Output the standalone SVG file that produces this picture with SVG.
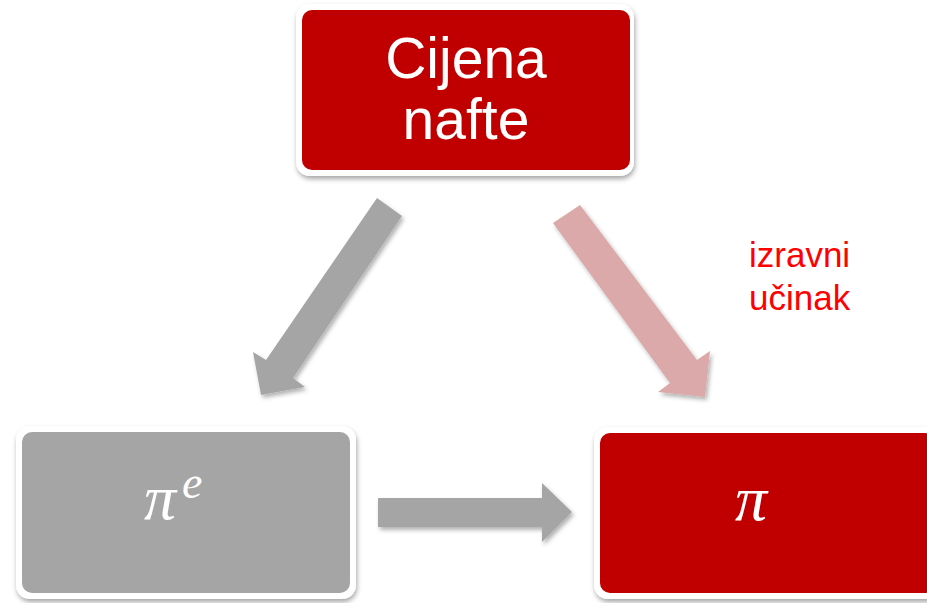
<svg xmlns="http://www.w3.org/2000/svg" width="927" height="603" viewBox="0 0 927 603">
<defs>
<filter id="sh" x="-10%" y="-10%" width="130%" height="130%">
<feDropShadow dx="1" dy="3" stdDeviation="2.5" flood-color="#000" flood-opacity="0.35"/>
</filter>
<filter id="ash" x="-20%" y="-20%" width="140%" height="140%">
<feDropShadow dx="2" dy="3" stdDeviation="2" flood-color="#000" flood-opacity="0.3"/>
</filter>
</defs>
<style>
.frame{fill:#ffffff;filter:url(#sh)}
.red{fill:#C00000}
.gray{fill:#A5A5A5}
.lbl{font-family:"Liberation Sans",Arial,sans-serif;fill:#ffffff;text-anchor:middle}
.math{font-family:"Liberation Serif","Times New Roman",serif;font-style:italic;fill:#ffffff}
.note{font-family:"Liberation Sans",Arial,sans-serif;font-size:35px;fill:#FF0000}
</style>
<g id="connectors">
<polygon fill="#A5A5A5" filter="url(#ash)" points="377,198 402,216 293,378 305,387 261,395 253,352 266,360"/>
<polygon fill="#DBA9A9" filter="url(#ash)" points="580,205 553,223 670,383 658,392 705,397 710,351 697,360"/>
<polygon fill="#A5A5A5" filter="url(#ash)" points="378,498 542,498 542,483 572,512 542,542 542,527 378,527"/>
</g>
<g id="node-cijena">
<rect class="frame" x="296" y="4" width="338" height="172" rx="14"/>
<rect class="red" x="302" y="10" width="328" height="160" rx="10"/>
<text class="lbl" x="466" y="78" font-size="57">Cijena</text>
<text class="lbl" x="466" y="139" font-size="57">nafte</text>
</g>
<g id="node-pie">
<rect class="frame" x="16" y="426" width="340" height="173" rx="14"/>
<rect class="gray" x="22" y="432" width="328" height="161" rx="10"/>
<text class="math" x="144" y="519" font-size="64">π<tspan font-size="46" dy="-21" dx="6">e</tspan></text>
</g>
<g id="node-pi">
<rect class="frame" x="594" y="427" width="345" height="172" rx="14"/>
<rect class="red" x="600" y="433" width="335" height="160" rx="10"/>
<text class="math" x="735" y="520" font-size="64">π</text>
</g>
<g id="label">
<text class="note" x="749" y="267">izravni</text>
<text class="note" x="749" y="310">učinak</text>
</g>
</svg>
